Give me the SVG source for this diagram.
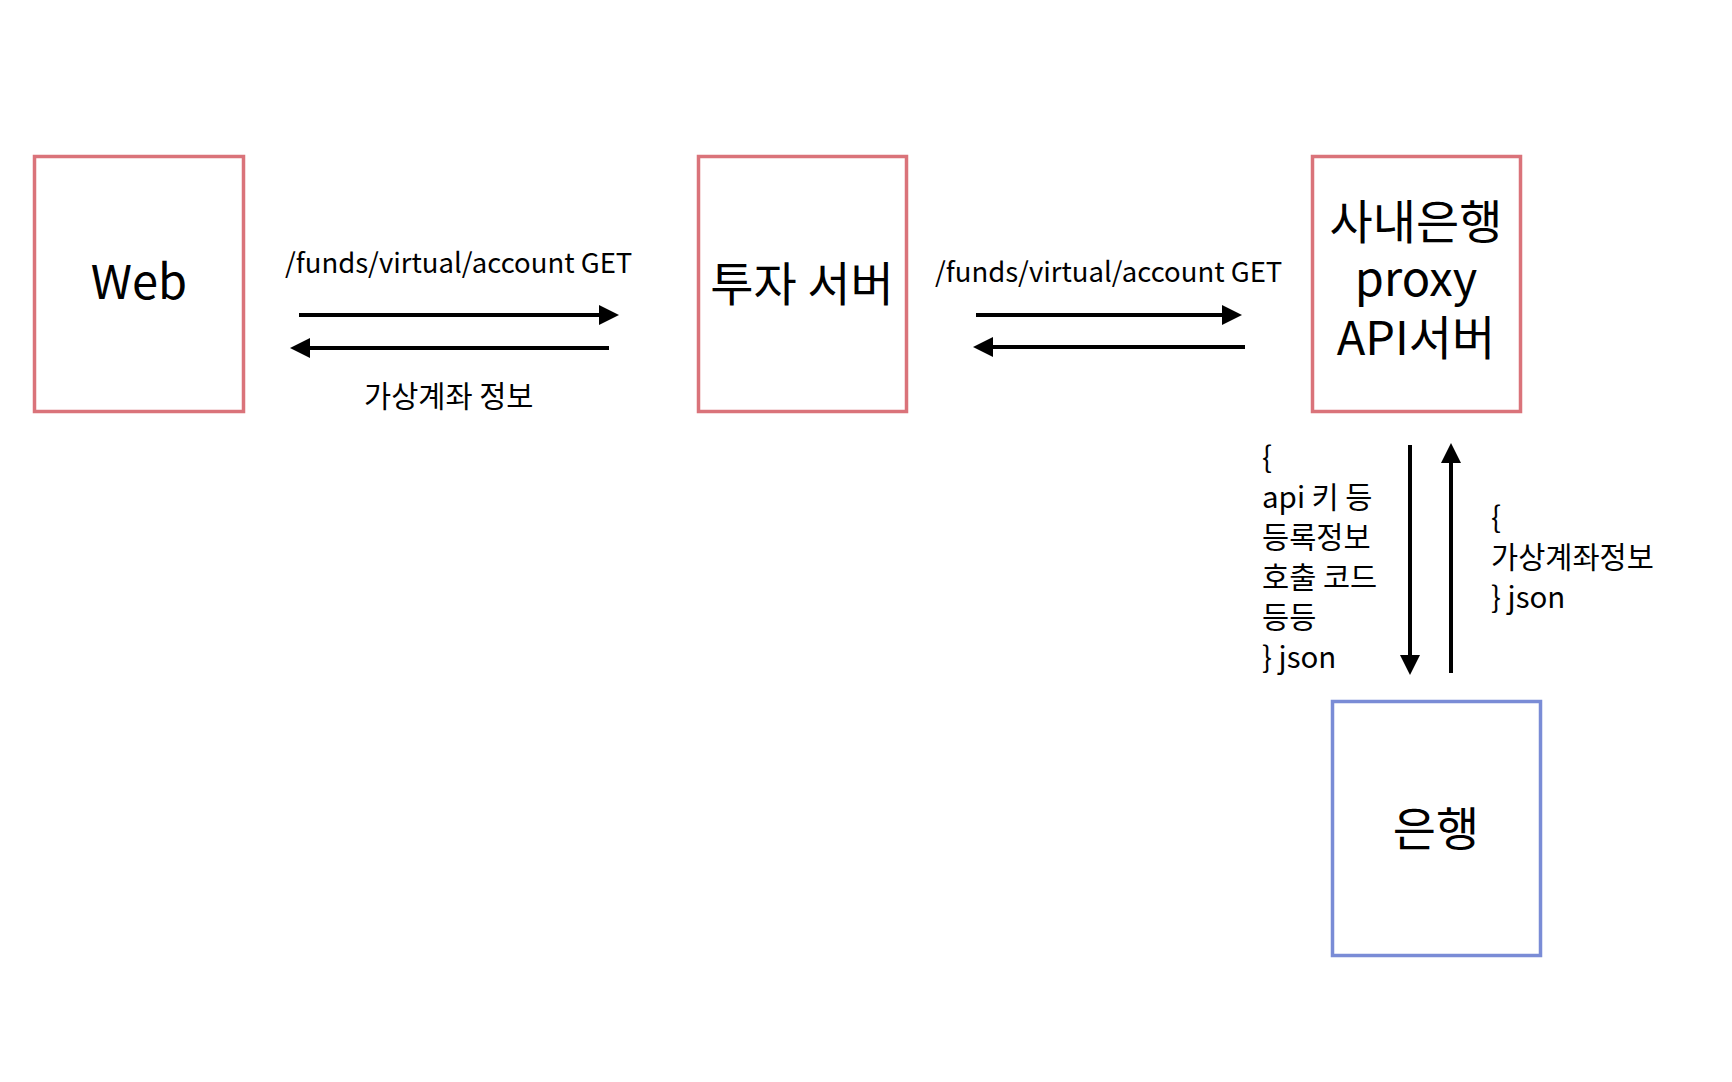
<svg xmlns="http://www.w3.org/2000/svg" width="1732" height="1082" viewBox="0 0 1732 1082">
<defs>
<style>
.box{fill:#fff;stroke-width:3.5}
.red{stroke:#da737a}
.blue{stroke:#7a8cd6}
.t{font-family:"Noto Sans CJK KR","Noto Sans",sans-serif;fill:#000}
.big{font-size:47px;text-anchor:middle}
.lbl{font-size:27.5px}
.kr{font-size:29.5px}
.ln{stroke:#000;stroke-width:4;fill:none}
</style>
<marker id="ah" markerUnits="userSpaceOnUse" markerWidth="20" markerHeight="20" refX="0" refY="10" orient="auto">
<path d="M0,0 L20,10 L0,20 z" fill="#000"/>
</marker>
</defs>
<rect width="1732" height="1082" fill="#fff"/>
<g id="web">
<rect class="box red" x="34.5" y="156.5" width="209" height="255"/>
<text class="t big" x="139" y="299">Web</text>
</g>
<g id="invest">
<rect class="box red" x="698.5" y="156.5" width="208" height="255"/>
<text class="t big" x="802" y="301">투자 서버</text>
</g>
<g id="proxy">
<rect class="box red" x="1312.5" y="156.5" width="208" height="255"/>
<text class="t big" x="1416" y="239">사내은행</text>
<text class="t big" x="1416" y="296">proxy</text>
<text class="t big" x="1416" y="355">API서버</text>
</g>
<g id="bank">
<rect class="box blue" x="1332.5" y="701.5" width="208" height="254"/>
<text class="t big" x="1436" y="846">은행</text>
</g>
<g id="connectors">
<path class="ln" d="M299,315 H599" marker-end="url(#ah)"/>
<path class="ln" d="M609,348 H310" marker-end="url(#ah)"/>
<path class="ln" d="M976,315 H1222" marker-end="url(#ah)"/>
<path class="ln" d="M1245,347 H993" marker-end="url(#ah)"/>
<path class="ln" d="M1410,445 V655" marker-end="url(#ah)"/>
<path class="ln" d="M1451,673 V463" marker-end="url(#ah)"/>
</g>
<g id="labels">
<text class="t lbl" x="285" y="273">/funds/virtual/account GET</text>
<text class="t kr" x="364" y="407">가상계좌 정보</text>
<text class="t lbl" x="935" y="282">/funds/virtual/account GET</text>
<text class="t kr" x="1262" y="468">{</text>
<text class="t kr" x="1262" y="508">api 키 등</text>
<text class="t kr" x="1262" y="548">등록정보</text>
<text class="t kr" x="1262" y="588">호출 코드</text>
<text class="t kr" x="1262" y="628">등등</text>
<text class="t kr" x="1262" y="668">} json</text>
<text class="t kr" x="1491" y="528">{</text>
<text class="t kr" x="1491" y="568">가상계좌정보</text>
<text class="t kr" x="1491" y="608">} json</text>
</g>
</svg>
